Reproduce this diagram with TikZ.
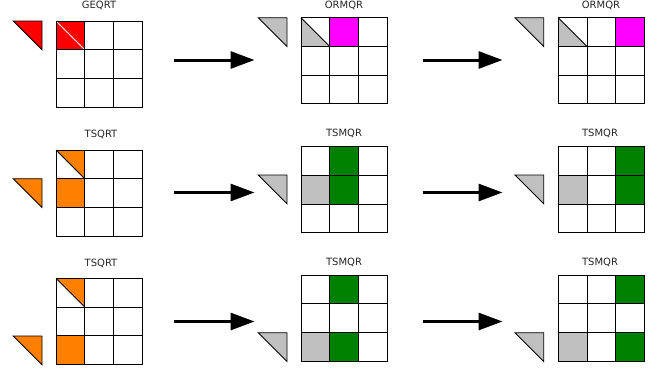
\documentclass[tikz,border=0pt]{standalone}
\usepackage{fontspec}
\setmainfont{DejaVu Sans}
\usepackage{tikz}
\usetikzlibrary{arrows.meta}
\usepackage{xcolor}

\definecolor{qrred}{RGB}{255,0,0}
\definecolor{qrmagenta}{RGB}{255,0,255}
\definecolor{qrorange}{RGB}{255,128,0}
\definecolor{qrgreen}{RGB}{0,128,0}
\definecolor{qrgray}{RGB}{192,192,192}

% 3x3 tile grid, cell 28.7
\newcommand{\qrgrid}{%
\draw [tile] (0,0) rectangle (86.1,86.1);
\foreach \k in {28.7,57.4} {
  \draw [tile] (\k,0) -- (\k,86.1);
  \draw [tile] (0,\k) -- (86.1,\k);
}}

\begin{document}
\begin{tikzpicture}[x=1pt,y=-1pt,
  tile/.style={line width=0.9pt, black},
  tri/.style={line width=0.9pt, draw=black, line join=miter},
  kernel/.style={font=\fontsize{10}{12}\selectfont, text=black!85, inner sep=0pt},
  bigarrow/.style={line width=3pt, -{Triangle[length=24pt,width=17pt]}}]
\useasboundingbox (0,0) rectangle (659,370);

% row 1
\draw [tri, fill=qrred] (13.3,21) -- ++(28.7,0) -- ++(0,28.7) -- cycle;
\begin{scope}[shift={(56,21)}]
\fill [qrred] (0,0) rectangle (28.7,28.7);
\draw [white, line width=0.8pt] (0,0) -- (28.7,28.7);
\qrgrid
\end{scope}
\node [kernel] (k11) at (99,5.5) {GEQRT};

\draw [tri, fill=qrgray] (258.3,17.7) -- ++(28.7,0) -- ++(0,28.7) -- cycle;
\begin{scope}[shift={(301,17.7)}]
\fill [qrgray] (0,0) -- (0,28.7) -- (28.7,28.7) -- cycle;
\fill [qrmagenta] (28.7,0) rectangle (57.4,28.7);
\draw [tile] (0,0) -- (28.7,28.7);
\qrgrid
\end{scope}
\node [kernel] (k12) at (344,5) {ORMQR};

\draw [tri, fill=qrgray] (515,17.7) -- ++(28.7,0) -- ++(0,28.7) -- cycle;
\begin{scope}[shift={(558.3,17.7)}]
\fill [qrgray] (0,0) -- (0,28.7) -- (28.7,28.7) -- cycle;
\fill [qrmagenta] (57.4,0) rectangle (86.1,28.7);
\draw [tile] (0,0) -- (28.7,28.7);
\qrgrid
\end{scope}
\node [kernel] (k13) at (601,5) {ORMQR};

% row 2
\draw [tri, fill=qrorange] (13.3,178.7) -- ++(28.7,0) -- ++(0,28.7) -- cycle;
\begin{scope}[shift={(56,150)}]
\fill [qrorange] (0,0) -- (28.7,0) -- (28.7,28.7) -- cycle;
\fill [qrorange] (0,28.7) rectangle (28.7,57.4);
\draw [tile] (0,0) -- (28.7,28.7);
\qrgrid
\end{scope}
\node [kernel] (k21) at (101,134.5) {TSQRT};

\draw [tri, fill=qrgray] (258.3,175) -- ++(28.7,0) -- ++(0,28.7) -- cycle;
\begin{scope}[shift={(301,146.7)}]
\fill [qrgreen] (28.7,0) rectangle (57.4,57.4);
\fill [qrgray] (0,28.7) rectangle (28.7,57.4);
\qrgrid
\end{scope}
\node [kernel] (k22) at (344,133) {TSMQR};

\draw [tri, fill=qrgray] (515,175) -- ++(28.7,0) -- ++(0,28.7) -- cycle;
\begin{scope}[shift={(558.3,146.7)}]
\fill [qrgreen] (57.4,0) rectangle (86.1,57.4);
\fill [qrgray] (0,28.7) rectangle (28.7,57.4);
\qrgrid
\end{scope}
\node [kernel] (k23) at (600,133) {TSMQR};

% row 3
\draw [tri, fill=qrorange] (13.3,336) -- ++(28.7,0) -- ++(0,28.7) -- cycle;
\begin{scope}[shift={(56,278.3)}]
\fill [qrorange] (0,0) -- (28.7,0) -- (28.7,28.7) -- cycle;
\fill [qrorange] (0,57.4) rectangle (28.7,86.1);
\draw [tile] (0,0) -- (28.7,28.7);
\qrgrid
\end{scope}
\node [kernel] (k31) at (101,263) {TSQRT};

\draw [tri, fill=qrgray] (258.3,332.7) -- ++(28.7,0) -- ++(0,28.7) -- cycle;
\begin{scope}[shift={(301,275)}]
\fill [qrgreen] (28.7,0) rectangle (57.4,28.7);
\fill [qrgreen] (28.7,57.4) rectangle (57.4,86.1);
\fill [qrgray] (0,57.4) rectangle (28.7,86.1);
\qrgrid
\end{scope}
\node [kernel] (k32) at (344,262) {TSMQR};

\draw [tri, fill=qrgray] (515,332.7) -- ++(28.7,0) -- ++(0,28.7) -- cycle;
\begin{scope}[shift={(558.3,275)}]
\fill [qrgreen] (57.4,0) rectangle (86.1,28.7);
\fill [qrgreen] (57.4,57.4) rectangle (86.1,86.1);
\fill [qrgray] (0,57.4) rectangle (28.7,86.1);
\qrgrid
\end{scope}
\node [kernel] (k33) at (600,262) {TSMQR};

% arrows
\foreach \r/\y in {1/60, 2/192.5, 3/321.5} {
  \coordinate (a\r) at (174,\y);
  \coordinate (b\r) at (254.5,\y);
  \coordinate (c\r) at (422.5,\y);
  \coordinate (d\r) at (502.5,\y);
  \draw [bigarrow] (a\r) -- (b\r);
  \draw [bigarrow] (c\r) -- (d\r);
}
\end{tikzpicture}
\end{document}
